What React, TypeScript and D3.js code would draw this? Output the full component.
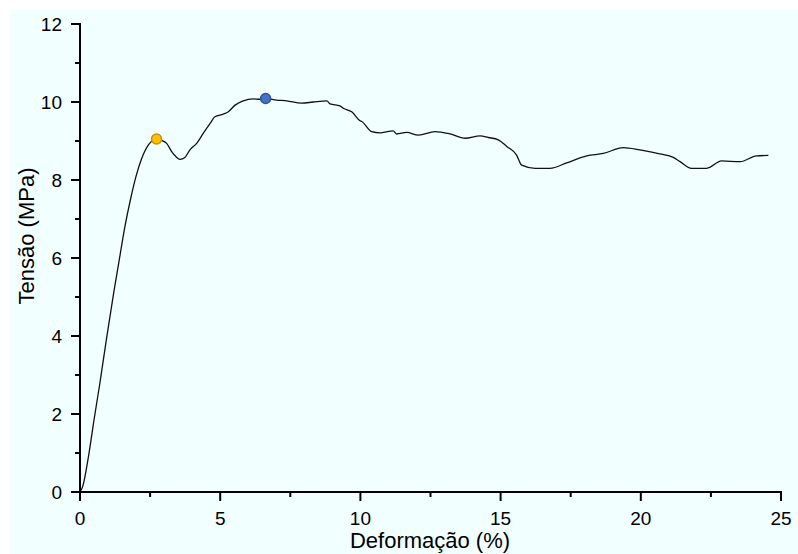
import React from "react";
import * as d3 from "d3";

const strain: number[] = [
  0, 0.1, 0.3, 0.5, 0.7, 0.95, 1.2, 1.4, 1.6, 1.8, 2.0, 2.2, 2.44, 2.6, 2.73,
  2.9, 3.09, 3.27, 3.42, 3.57, 3.74, 3.92, 4.16, 4.4, 4.64, 4.81, 5.11, 5.29, 5.53, 5.82, 6.18, 6.4, 6.62,
  7.01, 7.37, 7.9, 8.32, 8.8, 8.92, 9.27, 9.39, 9.69, 9.99, 10.05, 10.4, 10.7, 10.82, 11.17, 11.29, 11.65,
  12.07, 12.66, 13.2, 13.73, 14.27, 14.56, 14.92, 15.22, 15.57, 15.75, 16.23, 16.76, 17.36, 18.07, 18.66,
  19.38, 19.97, 20.68, 21.16, 21.4, 21.81, 22.35, 22.88, 23.54, 24.13, 24.55,
];
const stress: number[] = [
  0, 0.15, 0.9, 1.85, 2.75, 3.95, 5.1, 5.95, 6.8, 7.5, 8.1, 8.55, 8.9, 9.02, 9.05,
  9.02, 8.94, 8.73, 8.6, 8.53, 8.58, 8.77, 8.94, 9.2, 9.45, 9.62, 9.69, 9.75, 9.92, 10.03, 10.08, 10.07, 10.09,
  10.05, 10.03, 9.97, 10.0, 10.03, 9.95, 9.9, 9.84, 9.75, 9.52, 9.5, 9.24, 9.21, 9.22, 9.26, 9.18, 9.22,
  9.15, 9.24, 9.18, 9.07, 9.13, 9.09, 9.03, 8.86, 8.64, 8.38, 8.3, 8.3, 8.44, 8.62, 8.68,
  8.83, 8.77, 8.67, 8.58, 8.47, 8.3, 8.3, 8.49, 8.47, 8.62, 8.63,
];

const markerX: number[] = [2.73, 6.62];
const markerY: number[] = [9.05, 10.09];
const markerFill: string[] = ["#FFC000", "#4472C4"];
const markerStroke: string[] = ["#C98F00", "#2F5597"];

const xTicks: number[] = [0, 5, 10, 15, 20, 25];
const yTicks: number[] = [0, 2, 4, 6, 8, 10, 12];
const xMinor: number[] = [2.5, 7.5, 12.5, 17.5, 22.5];
const yMinor: number[] = [1, 3, 5, 7, 9, 11];

const xTitle = "Deformação (%)";
const yTitle = "Tensão (MPa)";

export default function App() {
  const W = 798;
  const H = 554;
  const x = d3.scaleLinear().domain([0, 25]).range([80, 781]);
  const y = d3.scaleLinear().domain([0, 12]).range([492, 24]);
  const pts: [number, number][] = strain.map((s, i) => [s, stress[i]]);
  const line = d3
    .line<[number, number]>()
    .x((d) => x(d[0]))
    .y((d) => y(d[1]))
    .curve(d3.curveMonotoneX);
  const font = "'Liberation Sans', Arial, sans-serif";
  return (
    <div style={{ position: "absolute", left: 0, top: 0 }}>
      <svg width={W} height={H} style={{ display: "block" }}>
        <rect x={0} y={0} width={W} height={H} fill="#ffffff" />
        <rect x={10} y={10} width={W - 10} height={H - 10} fill="#F2FFFF" />
        <path d={line(pts) || ""} fill="none" stroke="#111" strokeWidth={1.3} />
        <line x1={x(0)} x2={x(0)} y1={y(12) - 1} y2={y(0) + 1} stroke="#000" strokeWidth={2} />
        <line x1={x(0) - 1} x2={x(25) + 1} y1={y(0)} y2={y(0)} stroke="#000" strokeWidth={2} />
        {yTicks.map((t) => (
          <g key={"y" + t}>
            <line x1={x(0) - 9} x2={x(0)} y1={y(t)} y2={y(t)} stroke="#000" strokeWidth={2} />
            <text x={x(0) - 18} y={y(t)} dy="0.35em" textAnchor="end" fontSize={19} fontFamily={font} fill="#000">
              {t}
            </text>
          </g>
        ))}
        {yMinor.map((t) => (
          <line key={"ym" + t} x1={x(0) - 5} x2={x(0)} y1={y(t)} y2={y(t)} stroke="#000" strokeWidth={2} />
        ))}
        {xTicks.map((t) => (
          <g key={"x" + t}>
            <line x1={x(t)} x2={x(t)} y1={y(0)} y2={y(0) + 9} stroke="#000" strokeWidth={2} />
            <text x={x(t)} y={y(0) + 26} dy="0.35em" textAnchor="middle" fontSize={19} fontFamily={font} fill="#000">
              {t}
            </text>
          </g>
        ))}
        {xMinor.map((t) => (
          <line key={"xm" + t} x1={x(t)} x2={x(t)} y1={y(0)} y2={y(0) + 5} stroke="#000" strokeWidth={2} />
        ))}
        <text x={430} y={548} textAnchor="middle" fontSize={22} fontFamily={font} fill="#000">
          {xTitle}
        </text>
        <text
          transform={`translate(34, 236) rotate(-90)`}
          textAnchor="middle"
          fontSize={22}
          fontFamily={font}
          fill="#000"
        >
          {yTitle}
        </text>
        {markerX.map((mx, i) => (
          <circle
            key={"m" + i}
            cx={x(mx)}
            cy={y(markerY[i])}
            r={5}
            fill={markerFill[i]}
            stroke={markerStroke[i]}
            strokeWidth={1.5}
          />
        ))}
      </svg>
    </div>
  );
}
